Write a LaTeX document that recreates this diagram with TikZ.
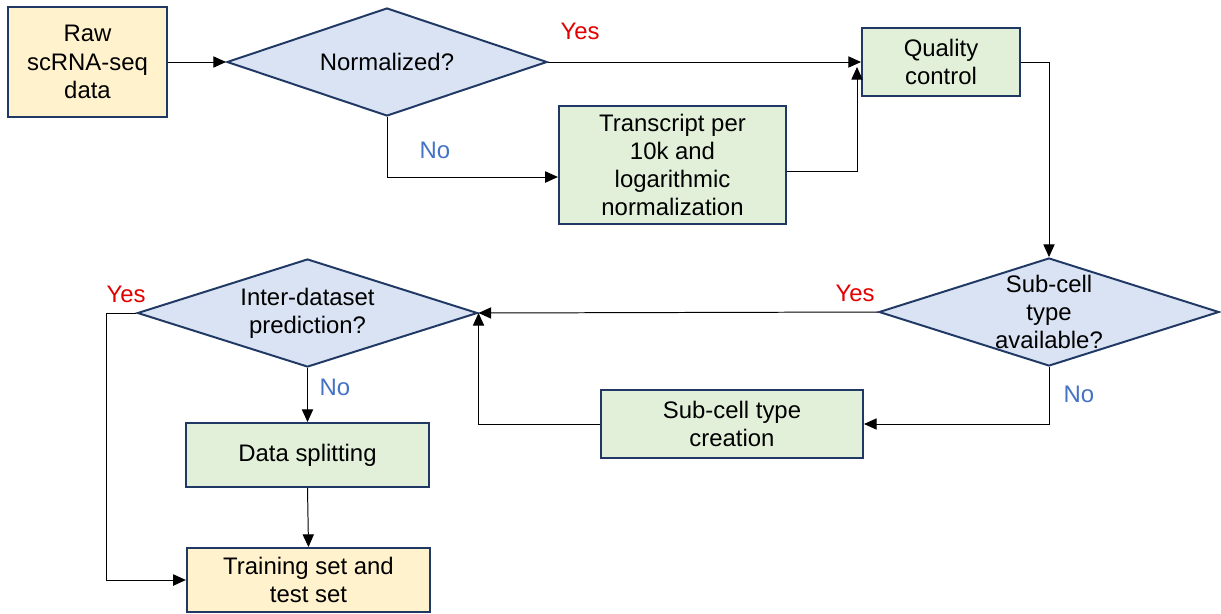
\documentclass[tikz,border=0pt]{standalone}
\usepackage{fontspec}
\setmainfont{Liberation Sans}
\usetikzlibrary{arrows.meta,shapes.geometric}

\definecolor{boxline}{RGB}{32,56,100}
\definecolor{iofill}{RGB}{255,242,204}
\definecolor{prcfill}{RGB}{226,240,217}
\definecolor{decfill}{RGB}{218,227,243}
\definecolor{yescol}{RGB}{226,0,0}
\definecolor{nocol}{RGB}{68,114,196}

\begin{document}
\begin{tikzpicture}[
    x=0.025cm, y=-0.025cm,
    font=\fontsize{17}{20}\selectfont,
    blk/.style={draw=boxline, line width=1.4pt, align=center, inner sep=2pt},
    io/.style={blk, fill=iofill},
    prc/.style={blk, fill=prcfill},
    dec/.style={blk, diamond, aspect=3.1, fill=decfill, inner sep=-3pt},
    fl/.style={-{Triangle[length=9pt,width=8pt]}, line width=0.7pt},
    yes/.style={text=yescol},
    no/.style={text=nocol}
]
  \useasboundingbox (0,0) rectangle (1221,613);

  % ================= top row =================
  \node[io, minimum width=3.98cm, minimum height=2.75cm] (raw) at (87.5,62)
       {Raw\\scRNA-seq\\data};
  \node[dec, minimum width=8.0cm, minimum height=2.7cm] (norm) at (387,62)
       {Normalized?};
  \node[prc, minimum width=3.95cm, minimum height=1.68cm] (qc) at (941,62)
       {Quality\\control};
  \node[prc, minimum width=5.68cm, minimum height=2.95cm] (tpm) at (672.5,165)
       {Transcript per\\10k and\\logarithmic\\normalization};

  % ================= middle row =================
  \node[dec, minimum width=8.5cm, minimum height=2.7cm] (subq) at (1049,312)
       {Sub-cell\\type\\available?};
  \node[dec, minimum width=8.5cm, minimum height=2.7cm] (interq) at (307.5,313)
       {Inter-dataset\\prediction?};
  \node[prc, minimum width=6.55cm, minimum height=1.7cm] (create) at (732,424)
       {Sub-cell type\\creation};

  % ================= bottom =================
  \node[prc, minimum width=6.08cm, minimum height=1.6cm] (split) at (307.5,455)
       {Data splitting};
  \node[io, minimum width=6.08cm, minimum height=1.6cm] (train) at (308.5,580)
       {Training set and\\test set};

  % ================= helper points =================
  \coordinate (nolvl) at (0,177);
  \coordinate (outlvl) at (0,171);
  \coordinate (qcin) at (857,67);
  \coordinate (yl) at (106,0);

  % ================= connectors =================
  \draw[fl] (raw.east) -- (norm.west);
  \draw[fl] (norm.east) -- (qc.west);
  \draw[fl] (norm.south) |- (tpm.west |- nolvl);
  \draw[fl] (tpm.east |- outlvl) -| (qcin);
  \draw[fl] (qc.east) -| (subq.north);
  \draw[fl] (subq.west) -- (interq.east);
  \draw[fl] (subq.south) |- (create.east);
  \draw[fl] (create.west) -| (interq.east);
  \draw[fl] (interq.south) -- (split.north);
  \draw[fl] (split.south) -- (train.north);
  \draw[fl] (interq.west) -- (yl |- interq.west) |- (train.west);

  % ================= Yes / No =================
  \node[yes] (yes1) at (580,31)  {Yes};
  \node[no]  (no1)  at (435,150) {No};
  \node[yes] (yes2) at (855,293) {Yes};
  \node[no]  (no2)  at (1079,394) {No};
  \node[yes] (yes3) at (126,294) {Yes};
  \node[no]  (no3)  at (335,387) {No};

\end{tikzpicture}
\end{document}
